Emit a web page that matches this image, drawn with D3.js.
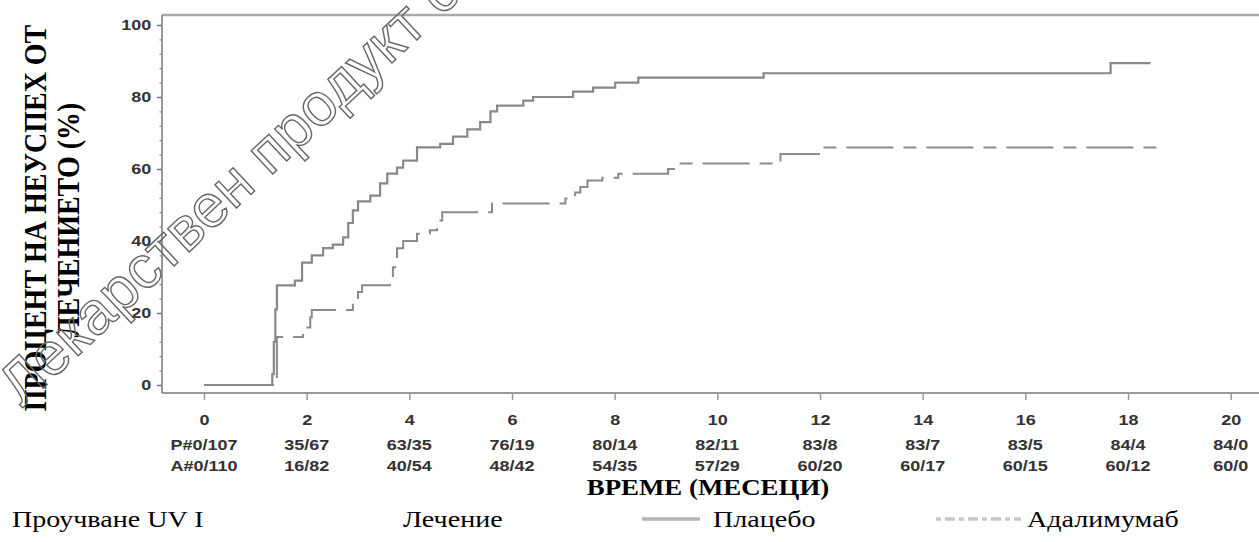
<!DOCTYPE html>
<html>
<head>
<meta charset="utf-8">
<script src="https://cdn.jsdelivr.net/npm/d3@7"></script>
<style>
  body { margin: 0; background: #fff; }
  svg { display: block; }
</style>
</head>
<body>
<div id="vis"></div>
<script>
const FRAME_WIDTH = 1259;
const FRAME_HEIGHT = 542;
const PLOT = {left: 162, top: 15, bottom: 393, right: 1262};

// source image is stretched sideways, so text gets a horizontal scale
const STRETCH = 1.2;

// months on the x axis and the numbers-at-risk table
const months = [0, 2, 4, 6, 8, 10, 12, 14, 16, 18, 20];
const riskPlacebo = ['P#0/107', '35/67', '63/35', '76/19', '80/14', '82/11', '83/8', '83/7', '83/5', '84/4', '84/0'];
const riskAdalimumab = ['A#0/110', '16/82', '40/54', '48/42', '54/35', '57/29', '60/20', '60/17', '60/15', '60/12', '60/0'];
const yTicks = [0, 20, 40, 60, 80, 100];

// Kaplan-Meier steps (months, % failure)
const placeboTime = [0, 1.33, 1.36, 1.39, 1.42, 1.77, 1.91, 2.1, 2.32, 2.51, 2.71, 2.81, 2.9, 3.0, 3.24, 3.43, 3.57, 3.76, 3.88, 4.15, 4.6, 4.85, 5.13, 5.38, 5.58, 5.71, 6.22, 6.41, 7.19, 7.58, 8.01, 8.46, 10.9, 17.66, 18.44];
const placeboPct = [0, 3, 12, 21, 27.7, 29, 34, 36, 38, 39, 41, 45, 48.5, 51, 52.6, 56, 58.7, 60.4, 62.3, 66, 67, 69, 71, 73, 76, 77.6, 79, 80, 81.5, 82.6, 84, 85.4, 86.6, 89.4, 89.4];

const adaTime = [0, 1.42, 1.93, 2.07, 2.1, 2.9, 3.0, 3.08, 3.62, 3.68, 3.76, 3.88, 4.15, 4.4, 4.54, 4.64, 5.61, 7.04, 7.23, 7.33, 7.47, 7.76, 8.07, 9.04, 9.22, 11.23, 12.05, 18.69];
const adaPct = [0, 13.3, 16, 18.8, 20.8, 23.5, 25.8, 27.7, 30, 32.7, 38, 40, 42, 43, 45.7, 48, 50.4, 51.8, 53.5, 55, 56.8, 57.6, 58.7, 60, 61.5, 64.2, 66, 66];

const legendLabels = ['Проучване UV I', 'Лечение', 'Плацебо', 'Адалимумаб'];

const FRAME = d3.select('#vis')
  .append('svg')
    .attr('width', FRAME_WIDTH)
    .attr('height', FRAME_HEIGHT);

FRAME.append('rect')
  .attr('width', FRAME_WIDTH)
  .attr('height', FRAME_HEIGHT)
  .attr('fill', '#fff');

// scales
const X_SCALE = d3.scaleLinear().domain([0, 20]).range([204, 1230.7]);
const Y_SCALE = d3.scaleLinear().domain([0, 100]).range([385, 25]);

// frame lines
FRAME.append('line')
  .attr('x1', PLOT.left).attr('x2', PLOT.right)
  .attr('y1', PLOT.top).attr('y2', PLOT.top)
  .attr('stroke', '#aaa').attr('stroke-width', 2.5);
FRAME.append('line')
  .attr('x1', PLOT.left).attr('x2', PLOT.left)
  .attr('y1', PLOT.top).attr('y2', PLOT.bottom)
  .attr('stroke', '#777').attr('stroke-width', 1.5);
FRAME.append('line')
  .attr('x1', PLOT.left).attr('x2', PLOT.right)
  .attr('y1', PLOT.bottom).attr('y2', PLOT.bottom)
  .attr('stroke', '#777').attr('stroke-width', 1.5);

// y axis, major + minor ticks
const yAxis = FRAME.append('g')
  .attr('transform', 'translate(' + PLOT.left + ',0)')
  .call(d3.axisLeft(Y_SCALE).tickValues(yTicks).tickSize(5).tickPadding(4).tickSizeOuter(0));
yAxis.select('.domain').remove();
yAxis.selectAll('line').attr('stroke', '#777').attr('stroke-width', 1.5);
yAxis.selectAll('text')
  .attr('font-family', 'Liberation Sans, Arial, sans-serif')
  .attr('font-size', 15)
  .attr('font-weight', 'bold')
  .attr('fill', '#333')
  .attr('transform', 'scale(' + STRETCH + ',1)');

const yMinor = FRAME.append('g')
  .attr('transform', 'translate(' + PLOT.left + ',0)')
  .call(d3.axisLeft(Y_SCALE)
    .tickValues(d3.range(0, 101, 4).filter(d => d % 20 !== 0))
    .tickSize(2.5).tickFormat(''));
yMinor.select('.domain').remove();
yMinor.selectAll('line').attr('stroke', '#888').attr('stroke-width', 1.2);

// x axis
const xAxis = FRAME.append('g')
  .attr('transform', 'translate(0,' + PLOT.bottom + ')')
  .call(d3.axisBottom(X_SCALE).tickValues(months).tickSize(7).tickPadding(14).tickSizeOuter(0));
xAxis.select('.domain').remove();
xAxis.selectAll('line').attr('stroke', '#999').attr('stroke-width', 1.5);
xAxis.selectAll('text')
  .attr('font-family', 'Liberation Sans, Arial, sans-serif')
  .attr('font-size', 15)
  .attr('font-weight', 'bold')
  .attr('fill', '#333')
  .attr('transform', 'scale(' + STRETCH + ',1)');

// numbers at risk, bottom row is cut off in the original
FRAME.append('clipPath')
  .attr('id', 'riskClip')
  .append('rect')
    .attr('x', 0).attr('y', 430)
    .attr('width', FRAME_WIDTH).attr('height', 42);

const riskRows = [
  {labels: riskPlacebo, y: 445},
  {labels: riskAdalimumab, y: 466}
];

const riskG = FRAME.append('g').attr('clip-path', 'url(#riskClip)');
riskRows.forEach(row => {
  riskG.selectAll(null)
    .data(months)
    .enter()
    .append('text')
      .attr('transform', (d) => 'translate(' + X_SCALE(d) + ',' + row.y + ') scale(' + STRETCH + ',1)')
      .attr('text-anchor', 'middle')
      .attr('dy', '0.36em')
      .attr('font-family', 'Liberation Sans, Arial, sans-serif')
      .attr('font-size', 15)
      .attr('font-weight', 'bold')
      .attr('fill', '#333')
      .text((d, i) => row.labels[i]);
});

// survival curves
const stepLine = d3.line()
  .x(d => X_SCALE(d[0]))
  .y(d => Y_SCALE(d[1]))
  .curve(d3.curveStepAfter);

FRAME.append('path')
  .datum(d3.zip(adaTime, adaPct))
  .attr('d', stepLine)
  .attr('fill', 'none')
  .attr('stroke', '#8a8a8a')
  .attr('stroke-width', 2)
  .attr('stroke-dasharray', '47,10,13,10');

FRAME.append('path')
  .datum(d3.zip(placeboTime, placeboPct))
  .attr('d', stepLine)
  .attr('fill', 'none')
  .attr('stroke', '#888')
  .attr('stroke-width', 2.2);

// axis titles
FRAME.append('text')
  .attr('transform', 'translate(708,495) scale(1.12,1)')
  .attr('text-anchor', 'middle')
  .attr('font-family', 'Liberation Serif, Times New Roman, serif')
  .attr('font-size', 24)
  .attr('font-weight', 'bold')
  .text('ВРЕМЕ (МЕСЕЦИ)');

FRAME.append('text')
  .attr('transform', 'translate(35,218) rotate(-90) scale(1,1.15)')
  .attr('text-anchor', 'middle')
  .attr('dominant-baseline', 'central')
  .attr('font-family', 'Liberation Serif, Times New Roman, serif')
  .attr('font-size', 28)
  .attr('font-weight', 'bold')
  .text('ПРОЦЕНТ НА НЕУСПЕХ ОТ');

FRAME.append('text')
  .attr('transform', 'translate(68,220) rotate(-90) scale(1,1.15)')
  .attr('text-anchor', 'middle')
  .attr('dominant-baseline', 'central')
  .attr('font-family', 'Liberation Serif, Times New Roman, serif')
  .attr('font-size', 28)
  .attr('font-weight', 'bold')
  .text('ЛЕЧЕНИЕТО (%)');

// legend row
const legendX = [12, 403, 713, 1027];
FRAME.selectAll('.legend-text')
  .data(legendLabels)
  .enter()
  .append('text')
    .attr('class', 'legend-text')
    .attr('transform', (d, i) => 'translate(' + legendX[i] + ',527) scale(1.22,1)')
    .attr('font-family', 'Liberation Serif, Times New Roman, serif')
    .attr('font-size', 23)
    .text(d => d);

FRAME.append('line')
  .attr('x1', 642).attr('x2', 700)
  .attr('y1', 519).attr('y2', 519)
  .attr('stroke', '#b5b5b5').attr('stroke-width', 3.5);
FRAME.append('line')
  .attr('x1', 936).attr('x2', 1021)
  .attr('y1', 519).attr('y2', 519)
  .attr('stroke', '#c8c8c8').attr('stroke-width', 3.5)
  .attr('stroke-dasharray', '5,4,10,4');

// watermark, outlined letters
FRAME.append('text')
  .attr('transform', 'translate(22,408) rotate(-43)')
  .attr('font-family', 'Liberation Sans, Arial, sans-serif')
  .attr('font-size', 60)
  .attr('fill', 'none')
  .attr('stroke', '#666')
  .attr('stroke-width', 1.4)
  .text('Лекарствен продукт с невалидно разрешение');
</script>
</body>
</html>
